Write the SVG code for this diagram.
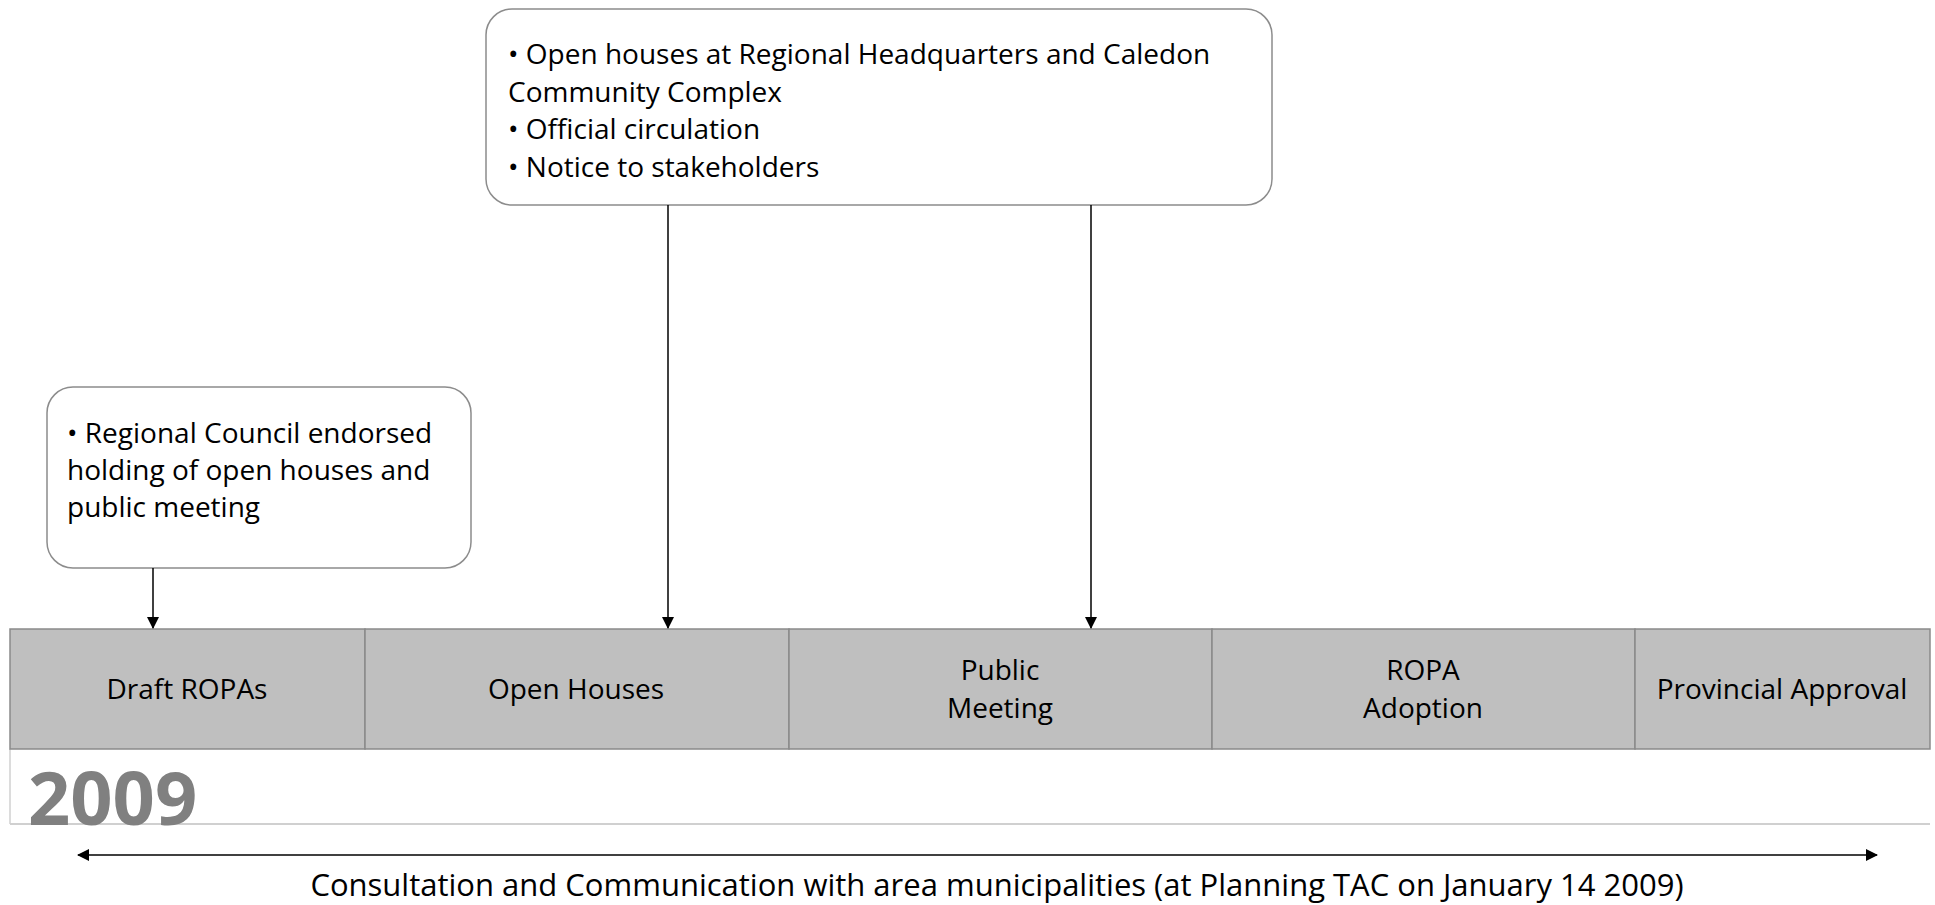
<svg xmlns="http://www.w3.org/2000/svg" width="1935" height="905" viewBox="0 0 1935 905">
<style>
.box{fill:#fff;stroke:#8c8c8c;stroke-width:1.5}
.seg{fill:#bfbfbf;stroke:#8a8a8a;stroke-width:1.5}
.t{font-family:"Open Sans","Liberation Sans",sans-serif;font-size:28px;fill:#000}
.c{text-anchor:middle}
.conn{stroke:#000;stroke-width:1.5;fill:none}
</style>
<defs>
<marker id="ah" markerWidth="12" markerHeight="12" refX="11" refY="6" orient="auto-start-reverse" markerUnits="userSpaceOnUse">
<path d="M0,0 L12,6 L0,12 Z" fill="#000"/>
</marker>
</defs>
<rect x="0" y="0" width="1935" height="905" fill="#fff"/>
<g id="year-band">
<line x1="10" y1="749" x2="10" y2="824" stroke="#d0d0d0" stroke-width="1.5"/>
<line x1="10" y1="824" x2="1930" y2="824" stroke="#d0d0d0" stroke-width="2"/>
<text x="28" y="825" font-family="Open Sans, Liberation Sans, sans-serif" font-weight="bold" font-size="74" fill="#808080">2009</text>
</g>
<g id="draft-ropas">
<rect class="seg" x="10" y="629" width="355" height="120"/>
<text class="t c" x="187" y="699">Draft ROPAs</text>
</g>
<g id="open-houses">
<rect class="seg" x="365" y="629" width="424" height="120"/>
<text class="t c" x="576" y="699">Open Houses</text>
</g>
<g id="public-meeting">
<rect class="seg" x="789" y="629" width="423" height="120"/>
<text class="t c" x="1000" y="680">Public</text>
<text class="t c" x="1000" y="718">Meeting</text>
</g>
<g id="ropa-adoption">
<rect class="seg" x="1212" y="629" width="423" height="120"/>
<text class="t c" x="1423" y="680">ROPA</text>
<text class="t c" x="1423" y="718">Adoption</text>
</g>
<g id="provincial-approval">
<rect class="seg" x="1635" y="629" width="295" height="120"/>
<text class="t c" x="1782" y="699">Provincial Approval</text>
</g>
<g id="note-top">
<rect class="box" x="486" y="9" width="786" height="196" rx="26" ry="26"/>
<text class="t" x="508" y="64">• Open houses at Regional Headquarters and Caledon</text>
<text class="t" x="508" y="102">Community Complex</text>
<text class="t" x="508" y="139">• Official circulation</text>
<text class="t" x="508" y="177">• Notice to stakeholders</text>
</g>
<g id="note-left">
<rect class="box" x="47" y="387" width="424" height="181" rx="26" ry="26"/>
<text class="t" x="67" y="443">• Regional Council endorsed</text>
<text class="t" x="67" y="480">holding of open houses and</text>
<text class="t" x="67" y="517">public meeting</text>
</g>
<g id="connectors">
<line class="conn" x1="153" y1="568" x2="153" y2="628" marker-end="url(#ah)"/>
<line class="conn" x1="668" y1="205" x2="668" y2="628" marker-end="url(#ah)"/>
<line class="conn" x1="1091" y1="205" x2="1091" y2="628" marker-end="url(#ah)"/>
<line class="conn" x1="78" y1="855" x2="1877" y2="855" marker-start="url(#ah)" marker-end="url(#ah)"/>
</g>
<text class="t c" x="997" y="896" style="font-size:31px">Consultation and Communication with area municipalities (at Planning TAC on January 14 2009)</text>
</svg>
